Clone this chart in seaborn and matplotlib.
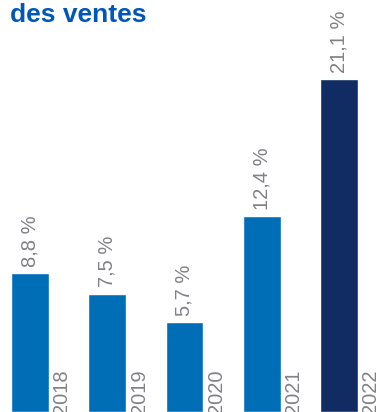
import seaborn as sns
import matplotlib.pyplot as plt
import pandas as pd

# data
years = ["2018", "2019", "2020", "2021", "2022"]
values = [8.8, 7.5, 5.7, 12.4, 21.1]
value_labels = ["8,8 %", "7,5 %", "5,7 %", "12,4 %", "21,1 %"]
bar_colors = ["#006EB7", "#006EB7", "#006EB7", "#006EB7", "#112C62"]

df = pd.DataFrame({"year": years, "value": values})

sns.set_style("white")
plt.rcParams["font.family"] = ["Liberation Sans", "DejaVu Sans"]

fig = plt.figure(figsize=(3.78, 4.12), dpi=100)
ax = fig.add_axes([0, 0, 1, 1])

sns.barplot(data=df, x="year", y="value", hue="year", palette=bar_colors,
            width=0.49, legend=False, ax=ax, saturation=1)

gray = "#818287"
for i, (v, lab, yr) in enumerate(zip(values, value_labels, years)):
    # value above the bar
    ax.text(i, v + 0.4, lab, rotation=90, ha="center", va="bottom",
            fontsize=14.5, color=gray)
    # year to the right of the bar, sitting on the bottom edge
    ax.text(i + 0.29, -0.15, yr, rotation=90, ha="left", va="bottom",
            fontsize=14.5, color=gray)

ax.set_xlim(-0.388, 4.505)
ax.set_ylim(0, 26.1)
ax.axis("off")

# title, first line is cut off above the frame
fig.text(10 / 378, 390 / 412, "des ventes", fontsize=19, fontweight="bold",
         color="#0057B8", ha="left", va="baseline")

fig.savefig("out.png", dpi=100)
